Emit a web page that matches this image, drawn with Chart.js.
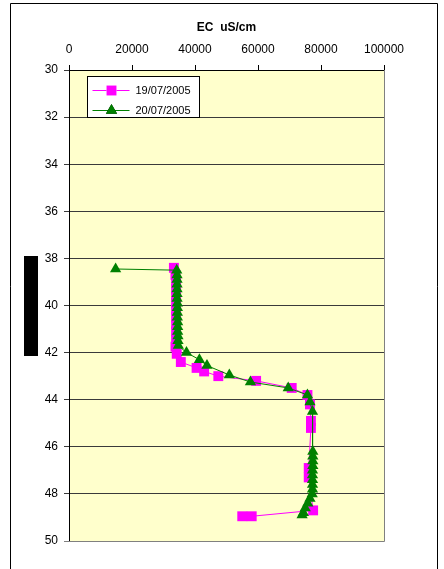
<!DOCTYPE html>
<html>
<head>
<meta charset="utf-8">
<script src="https://cdn.jsdelivr.net/npm/chart.js@4/dist/chart.umd.min.js"></script>
<style>
  html, body { margin: 0; padding: 0; background: #ffffff; }
  #wrap { width: 444px; height: 569px; }
</style>
</head>
<body>
<div id="wrap"><canvas id="c" width="444" height="569"></canvas></div>
<script>
// EC profile with depth, two survey dates
const seriesNames = ['19/07/2005', '20/07/2005'];

const depth19 = [38.4, 38.7, 39.0, 39.3, 39.6, 39.9, 40.2, 40.5, 40.8, 41.1, 41.4, 41.75, 42.05, 42.4, 42.65, 42.8, 43.0, 43.2, 43.5, 43.8, 44.2, 44.9, 45.2, 46.9, 47.3, 48.7, 48.95, 48.95];
const ec19    = [33300, 33800, 34000, 34000, 34000, 34000, 34000, 34000, 34000, 34000, 34000, 33800, 34200, 35500, 40500, 42900, 47400, 59400, 70700, 75700, 76500, 76800, 76800, 76100, 76100, 77500, 58000, 55000];

const depth20 = [38.45, 38.5, 38.7, 38.9, 39.1, 39.3, 39.5, 39.7, 39.9, 40.1, 40.3, 40.5, 40.7, 40.9, 41.1, 41.3, 41.5, 41.7, 42.0, 42.3, 42.55, 42.95, 43.25, 43.5, 43.8, 44.1, 44.5, 46.2, 46.4, 46.6, 46.8, 47.0, 47.2, 47.4, 47.6, 47.8, 48.0, 48.2, 48.4, 48.6, 48.8, 48.9];
const ec20    = [14800, 34200, 34300, 34300, 34300, 34300, 34300, 34300, 34400, 34400, 34400, 34400, 34500, 34500, 34500, 34600, 34600, 34700, 37300, 41400, 43800, 50900, 57600, 69600, 75700, 76500, 77300, 77400, 77400, 77400, 77400, 77300, 77300, 77300, 77300, 77300, 77200, 76500, 75800, 75000, 74400, 74000];

const xTicks = [0, 20000, 40000, 60000, 80000, 100000];
const yTicks = [30, 32, 34, 36, 38, 40, 42, 44, 46, 48, 50];

const toPoints = (xs, ys) => xs.map((x, i) => ({ x: x, y: ys[i] }));

const FONT = "'Liberation Sans', Arial, sans-serif";

// frame around the whole figure, plot background and plot edges
const framePlugin = {
  id: 'frame',
  beforeDraw(chart) {
    const { ctx, chartArea: a } = chart;
    ctx.save();
    ctx.fillStyle = '#ffffff';
    ctx.fillRect(0, 0, chart.width, chart.height);
    ctx.strokeStyle = '#000000';
    ctx.lineWidth = 1;
    ctx.beginPath();
    ctx.moveTo(10.5, chart.height + 2);
    ctx.lineTo(10.5, 3.5);
    ctx.lineTo(437.5, 3.5);
    ctx.lineTo(437.5, chart.height + 2);
    ctx.stroke();
    ctx.fillStyle = '#FFFFCC';
    ctx.fillRect(a.left, a.top, a.right - a.left, a.bottom - a.top);
    ctx.restore();
  },
  afterDatasetsDraw(chart) {
    const { ctx, chartArea: a } = chart;
    ctx.save();
    ctx.strokeStyle = '#808080';
    ctx.lineWidth = 1;
    ctx.beginPath();
    ctx.moveTo(Math.round(a.right) + 0.5, a.top);
    ctx.lineTo(Math.round(a.right) + 0.5, Math.round(a.bottom) + 0.5);
    ctx.lineTo(a.left, Math.round(a.bottom) + 0.5);
    ctx.stroke();
    ctx.restore();
  }
};

// boxed legend in the upper left of the plot, plus the masked depth title
const boxLegendPlugin = {
  id: 'boxLegend',
  afterDraw(chart) {
    const { ctx, chartArea: a } = chart;
    ctx.save();
    // masked axis title block
    const yScale = chart.scales.y;
    const midY = (a.top + a.bottom) / 2;
    ctx.fillStyle = '#000000';
    ctx.fillRect(yScale.left + 24, Math.round(midY - 50), 14, 100);

    const bx = a.left + 18.5, by = a.top + 6.5, bw = 112, bh = 41;
    ctx.fillStyle = '#ffffff';
    ctx.fillRect(bx, by, bw, bh);
    ctx.strokeStyle = '#000000';
    ctx.lineWidth = 1;
    ctx.strokeRect(bx, by, bw, bh);
    chart.data.datasets.forEach((ds, i) => {
      const ly = Math.round(by + 13 + i * 20) + 0.5;
      ctx.strokeStyle = ds.borderColor;
      ctx.lineWidth = 1;
      ctx.beginPath();
      ctx.moveTo(bx + 5, ly);
      ctx.lineTo(bx + 42, ly);
      ctx.stroke();
      Chart.helpers.drawPoint(ctx, {
        pointStyle: ds.pointStyle,
        radius: ds.pointRadius,
        borderWidth: 0
      }, bx + 24, ly);
      ctx.fillStyle = ds.backgroundColor;
      ctx.fill();
      ctx.fillStyle = '#000000';
      ctx.font = '11px ' + FONT;
      ctx.textBaseline = 'middle';
      ctx.textAlign = 'left';
      ctx.fillText(ds.label, bx + 48, ly);
    });
    ctx.restore();
  }
};

new Chart(document.getElementById('c'), {
  type: 'scatter',
  data: {
    datasets: [
      {
        label: seriesNames[0],
        data: toPoints(ec19, depth19),
        showLine: true,
        borderColor: '#FF00FF',
        backgroundColor: '#FF00FF',
        pointBorderColor: '#FF00FF',
        borderWidth: 1,
        pointBorderWidth: 0,
        pointStyle: 'rect',
        pointRadius: 7,
        pointHoverRadius: 7,
        order: 1
      },
      {
        label: seriesNames[1],
        data: toPoints(ec20, depth20),
        showLine: true,
        borderColor: '#008000',
        backgroundColor: '#008000',
        pointBorderColor: '#008000',
        borderWidth: 1,
        pointBorderWidth: 0,
        pointStyle: 'triangle',
        pointRadius: 6.5,
        pointHoverRadius: 6.5,
        order: 0
      }
    ]
  },
  options: {
    responsive: false,
    animation: false,
    layout: { padding: { left: 0, top: 0, right: 60, bottom: 28 } },
    plugins: {
      legend: { display: false },
      tooltip: { enabled: false }
    },
    scales: {
      x: {
        type: 'linear',
        position: 'top',
        min: 0,
        max: 100000,
        afterBuildTicks: (s) => { s.ticks = xTicks.map(v => ({ value: v })); },
        afterFit: (s) => { s.height = 70; },
        ticks: {
          color: '#000000',
          font: { family: FONT, size: 12 },
          padding: 8,
          maxRotation: 0,
          callback: (v) => String(v)
        },
        grid: {
          display: true,
          drawOnChartArea: false,
          drawTicks: true,
          tickLength: 5,
          color: '#000000'
        },
        border: { display: true, color: '#000000', width: 1 },
        title: {
          display: true,
          text: 'EC  uS/cm',
          color: '#000000',
          font: { family: FONT, size: 12, weight: 'bold' },
          padding: { top: 20, bottom: 0 }
        }
      },
      y: {
        type: 'linear',
        reverse: true,
        min: 30,
        max: 50,
        afterBuildTicks: (s) => { s.ticks = yTicks.map(v => ({ value: v })); },
        afterFit: (s) => { s.width = 69; },
        ticks: {
          color: '#000000',
          font: { family: FONT, size: 12 },
          padding: 6
        },
        grid: {
          display: true,
          drawOnChartArea: true,
          drawTicks: true,
          tickLength: 5,
          color: (c) => (c.tick && c.tick.value === 50) ? '#808080' : '#3a3a3a',
          lineWidth: 1
        },
        border: { display: true, color: '#000000', width: 1 },
        title: {
          display: true,
          text: 'Depth (m)',
          color: '#000000',
          font: { family: FONT, size: 12, weight: 'bold' },
          padding: { top: 24, bottom: 0 }
        }
      }
    }
  },
  plugins: [framePlugin, boxLegendPlugin]
});
</script>
</body>
</html>
